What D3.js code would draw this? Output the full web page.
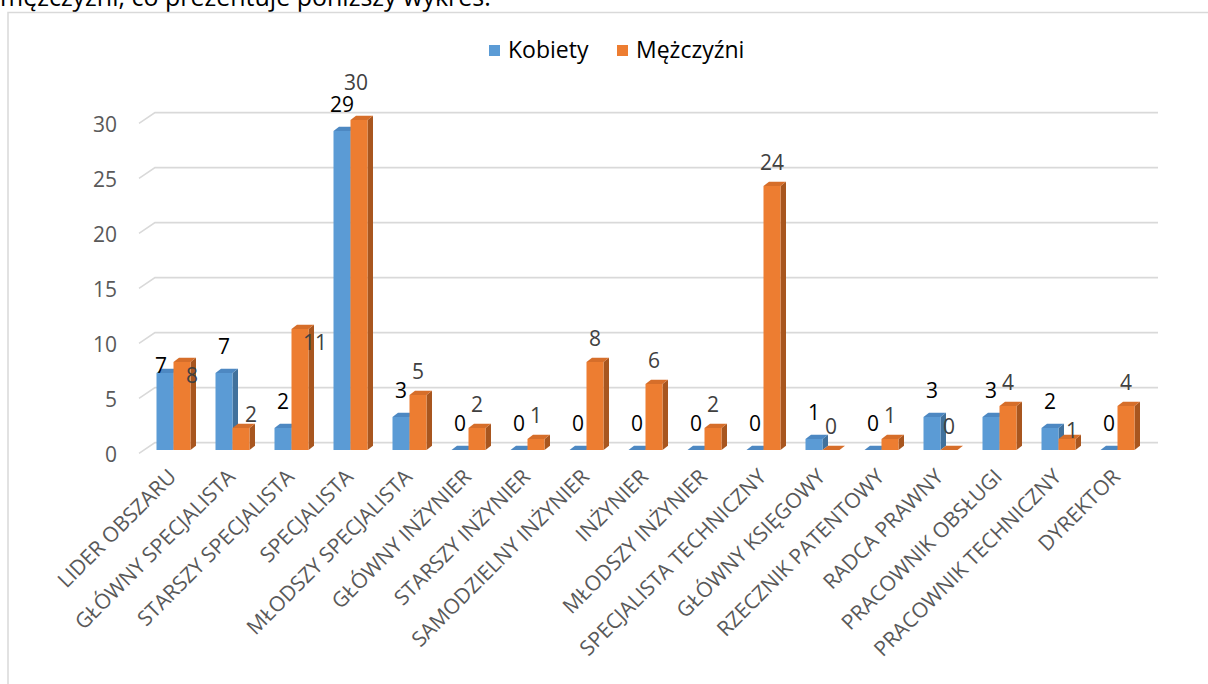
<!DOCTYPE html>
<html lang="pl">
<head>
<meta charset="utf-8">
<script src="https://cdn.jsdelivr.net/npm/d3@7/dist/d3.min.js"></script>
<style>
  html, body { margin: 0; padding: 0; background: #ffffff; }
  svg { display: block; font-family: "Open Sans", "Noto Sans", sans-serif; }
</style>
</head>
<body>
<svg id="chart" width="1208" height="684"></svg>
<script>
// Stanowiska i liczba osób wg płci
const categories = [
  "LIDER OBSZARU", "GŁÓWNY SPECJALISTA", "STARSZY SPECJALISTA", "SPECJALISTA",
  "MŁODSZY SPECJALISTA", "GŁÓWNY INŻYNIER", "STARSZY INŻYNIER", "SAMODZIELNY INŻYNIER",
  "INŻYNIER", "MŁODSZY INŻYNIER", "SPECJALISTA TECHNICZNY", "GŁÓWNY KSIĘGOWY",
  "RZECZNIK PATENTOWY", "RADCA PRAWNY", "PRACOWNIK OBSŁUGI", "PRACOWNIK TECHNICZNY",
  "DYREKTOR"
];
const seriesNames = ["Kobiety", "Mężczyźni"];
const kobiety   = [7, 7, 2, 29, 3, 0, 0, 0, 0, 0, 0, 1, 0, 3, 3, 2, 0];
const mezczyzni = [8, 2, 11, 30, 5, 2, 1, 8, 6, 2, 24, 0, 1, 0, 4, 1, 4];
const yTicks = [0, 5, 10, 15, 20, 25, 30];

// Kolory serii: przód, bok, góra słupka
const palette = {
  "Kobiety":   { front: "#5B9BD5", side: "#41719C", top: "#4D88C2", label: "#000000" },
  "Mężczyźni": { front: "#ED7D31", side: "#A8561F", top: "#D66E2A", label: "#404040" }
};

// Przesunięcia etykiet, które w układzie 3D zachodzą na sąsiednie słupki
const labelShift = {
  "LIDER OBSZARU|Kobiety":        [-4, 19],
  "LIDER OBSZARU|Mężczyźni":      [10, 37],
  "GŁÓWNY SPECJALISTA|Mężczyźni": [10, 10],
  "STARSZY SPECJALISTA|Mężczyźni":[15, 37],
  "SPECJALISTA|Mężczyźni":        [-3, -14],
  "PRACOWNIK TECHNICZNY|Mężczyźni":[5, 15]
};

const svg = d3.select("#chart");

// Fragment tekstu nad wykresem
svg.append("text")
  .attr("x", 0).attr("y", 6)
  .attr("font-size", 25).attr("fill", "#000")
  .text("mężczyźni, co prezentuje poniższy wykres.");

// Ramka obszaru wykresu
svg.append("rect")
  .attr("x", 8).attr("y", 12.5)
  .attr("width", 1240).attr("height", 700)
  .attr("fill", "#fff").attr("stroke", "#d9d9d9").attr("stroke-width", 1.5);

// Skale (płaszczyzna przednia)
const x = d3.scaleBand().domain(categories).range([139, 1142]).padding(0);
const y = d3.scaleLinear().domain([0, 30]).range([453.3, 123.3]);
const xs = d3.scaleBand().domain(seriesNames).range([-17, 17]).padding(0);

// Wektor głębi ściany tylnej oraz pozycja i głębokość słupków
const wall = { dx: 16, dy: -10.7 };
const barOff = { dx: 5, dy: -3.3 };
const depth = { dx: 5.5, dy: -4.2 };

// Linie siatki: ukośna część na ścianie bocznej + pozioma na tylnej
const grid = svg.append("g");
yTicks.forEach(t => {
  const yf = y(t);
  grid.append("polyline")
    .attr("points", [[139, yf], [139 + wall.dx, yf + wall.dy], [1142 + wall.dx, yf + wall.dy]].map(p => p.join(",")).join(" "))
    .attr("fill", "none").attr("stroke", "#d9d9d9").attr("stroke-width", 1.6);
});

// Etykiety osi wartości
const yAxis = d3.axisLeft(y).tickValues(yTicks).tickSize(0).tickPadding(0);
const yg = svg.append("g").attr("transform", "translate(117,1.5)").call(yAxis);
yg.select(".domain").remove();
yg.selectAll("text").attr("font-size", 21).attr("fill", "#595959")
  .attr("font-family", "'Open Sans', sans-serif");

// Słupki 3D
const series = [
  { name: "Kobiety", values: kobiety },
  { name: "Mężczyźni", values: mezczyzni }
];
const bw = xs.bandwidth();
const base = y(0) + barOff.dy;

const bars = svg.append("g");
categories.forEach((cat, i) => {
  const cx = x(cat) + x.bandwidth() / 2 + barOff.dx;
  series.forEach(s => {
    const v = s.values[i];
    const c = palette[s.name];
    const x0 = cx + xs(s.name);
    const x1 = x0 + bw;
    const yt = y(v) + barOff.dy;
    const g = bars.append("g");
    // bok
    g.append("polygon")
      .attr("points", [[x1, yt], [x1 + depth.dx, yt + depth.dy], [x1 + depth.dx, base + depth.dy], [x1, base]].map(p => p.join(",")).join(" "))
      .attr("fill", c.side);
    // przód
    g.append("rect")
      .attr("x", x0).attr("y", yt).attr("width", bw).attr("height", base - yt)
      .attr("fill", c.front);
    // góra
    g.append("polygon")
      .attr("points", [[x0, yt], [x0 + depth.dx, yt + depth.dy], [x1 + depth.dx, yt + depth.dy], [x1, yt]].map(p => p.join(",")).join(" "))
      .attr("fill", c.top);
  });
});

// Etykiety danych
const labels = svg.append("g").attr("font-size", 21).attr("text-anchor", "middle");
categories.forEach((cat, i) => {
  const cx = x(cat) + x.bandwidth() / 2 + barOff.dx;
  series.forEach(s => {
    const v = s.values[i];
    const shift = labelShift[cat + "|" + s.name] || [0, 0];
    const lift = s.name === "Kobiety" ? 27 : 24;
    labels.append("text")
      .attr("x", cx + xs(s.name) + bw / 2 + shift[0])
      .attr("y", y(v) + barOff.dy - lift + shift[1])
      .attr("dy", "0.36em")
      .attr("fill", palette[s.name].label)
      .text(v);
  });
});

// Etykiety kategorii (obrócone o 45°)
const xl = svg.append("g").attr("font-size", 21).attr("fill", "#595959").attr("text-anchor", "end");
categories.forEach(cat => {
  const px = x(cat) + x.bandwidth() / 2 + barOff.dx + 4;
  const py = 478;
  xl.append("text")
    .attr("transform", `translate(${px},${py}) rotate(-45)`)
    .text(cat);
});

// Legenda
const legend = svg.append("g").attr("font-size", 23);
const legendItems = [
  { name: "Kobiety", sx: 489, tx: 508 },
  { name: "Mężczyźni", sx: 617, tx: 636 }
];
legendItems.forEach(it => {
  legend.append("rect").attr("x", it.sx).attr("y", 45).attr("width", 11).attr("height", 11)
    .attr("fill", palette[it.name].front);
  legend.append("text").attr("x", it.tx).attr("y", 58).attr("fill", "#000").text(it.name);
});
</script>
</body>
</html>
